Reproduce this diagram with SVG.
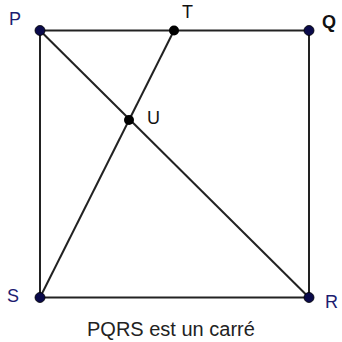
<svg xmlns="http://www.w3.org/2000/svg" width="342" height="342" viewBox="0 0 342 342">
<style>
.ln{stroke:#222;stroke-width:2;fill:none}
.vb{fill:#0a0a4a;stroke:#000;stroke-width:0.8}
.vk{fill:#000}
.lb{font-family:"Liberation Sans",Arial,sans-serif;font-size:18px;fill:#1c1c70}
.lk{font-family:"Liberation Sans",Arial,sans-serif;font-size:18px;fill:#111}
.cap{font-family:"Liberation Sans",Arial,sans-serif;font-size:20px;fill:#222}
</style>
<rect width="342" height="342" fill="#fff"/>
<g id="connectors">
<line class="ln" x1="40" y1="30.5" x2="309" y2="30.5"/>
<line class="ln" x1="309" y1="30.5" x2="309" y2="297.5"/>
<line class="ln" x1="309" y1="297.5" x2="40" y2="297.5"/>
<line class="ln" x1="40" y1="297.5" x2="40" y2="30.5"/>
<line class="ln" x1="40" y1="30.5" x2="309" y2="297.5"/>
<line class="ln" x1="174" y1="30.5" x2="40" y2="297.5"/>
</g>
<g id="P"><circle class="vb" cx="40" cy="30.5" r="5"/><text class="lb" x="9" y="25" font-size="17">P</text></g>
<g id="T"><circle class="vk" cx="174" cy="30.5" r="5"/><text class="lk" x="182" y="18">T</text></g>
<g id="Q"><circle class="vb" cx="309" cy="30.5" r="5"/><text class="lk" x="322" y="28" font-weight="bold" font-size="20">Q</text></g>
<g id="U"><circle class="vk" cx="129" cy="120" r="5"/><text class="lk" x="147" y="124">U</text></g>
<g id="S"><circle class="vb" cx="40" cy="297.5" r="5"/><text class="lb" x="7" y="302">S</text></g>
<g id="R"><circle class="vb" cx="309" cy="297.5" r="5"/><text class="lb" x="325" y="308">R</text></g>
<text class="cap" x="87" y="336">PQRS est un carré</text>
</svg>
